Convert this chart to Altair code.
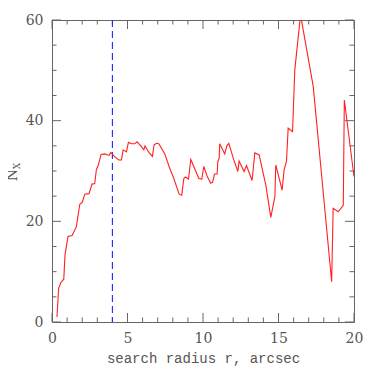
import altair as alt
import pandas as pd

# ---- data ----
radius = [0.33, 0.44, 0.58, 0.78, 0.86, 1.06, 1.33, 1.61, 1.84, 2.01, 2.17, 2.45, 2.65, 2.83,
          2.94, 3.07, 3.25, 3.49, 3.78, 3.89, 3.98, 4.16, 4.42, 4.60, 4.71, 4.93, 5.06, 5.26,
          5.48, 5.63, 5.88, 6.08, 6.16, 6.39, 6.65, 6.76, 6.92, 7.07, 7.47, 7.80, 8.02, 8.42,
          8.59, 8.73, 8.84, 9.04, 9.19, 9.46, 9.72, 9.92, 10.05, 10.27, 10.50, 10.63, 10.76,
          10.94, 10.98, 11.07, 11.11, 11.44, 11.58, 11.71, 12.04, 12.31, 12.39, 12.72, 12.88,
          13.25, 13.43, 13.72, 14.16, 14.49, 14.76, 14.82, 15.24, 15.37, 15.53, 15.64, 15.93,
          16.08, 16.46, 17.30, 18.52, 18.62, 18.95, 19.29, 19.36, 20.0]
n_x = [1.0, 6.7, 7.8, 8.5, 13.3, 17.0, 17.2, 18.9, 23.4, 23.8, 25.4, 25.5, 27.4, 27.5,
       30.3, 31.2, 33.3, 33.4, 33.1, 33.7, 33.4, 32.8, 32.2, 32.2, 34.2, 33.8, 35.7, 35.4,
       35.4, 35.8, 35.0, 34.2, 35.0, 33.8, 32.9, 35.2, 35.5, 35.4, 33.4, 30.5, 28.9, 25.4,
       25.2, 28.5, 28.8, 28.4, 32.3, 30.4, 28.5, 28.4, 30.9, 29.0, 27.6, 27.7, 29.4,
       29.4, 31.9, 32.5, 35.4, 33.4, 35.0, 35.5, 32.2, 29.9, 32.0, 29.9, 31.1,
       28.1, 33.6, 33.2, 27.2, 20.8, 24.9, 31.2, 26.2, 30.2, 32.0, 38.5, 37.8,
       50.1, 61.0, 46.8, 8.0, 22.6, 21.9, 23.2, 44.1, 28.9]
marker_r = [4.0]
x_major = [0, 5, 10, 15, 20]
x_minor = [1, 2, 3, 4, 6, 7, 8, 9, 11, 12, 13, 14, 16, 17, 18, 19]
y_major = [0, 20, 40, 60]
y_minor = [5, 10, 15, 25, 30, 35, 45, 50, 55]

W = 302
H = 302
GREY = "#666666"
TXT = "#555555"
FONT = "DejaVu Serif"
TFONT = "Liberation Mono"

xs = alt.Scale(domain=[0, 20], nice=False, zero=False)
ys = alt.Scale(domain=[0, 60], nice=False, zero=False)

df = pd.DataFrame({"r": radius, "n": n_x})

base_axes = alt.Chart(pd.DataFrame({"r": [0], "n": [0]})).mark_point(opacity=0).encode(
    x=alt.X("r:Q", scale=xs, title="search radius r, arcsec",
            axis=alt.Axis(values=x_major, ticks=False, domain=False, grid=False, labelFlush=False,
                          labelFont=FONT, labelFontSize=14, labelColor=TXT, labelPadding=9,
                          titleFont=TFONT, titleFontSize=14, titleColor=TXT,
                          titleFontWeight="normal", titlePadding=6)),
    y=alt.Y("n:Q", scale=ys, title=None,
            axis=alt.Axis(values=y_major, ticks=False, domain=False, grid=False, labelFlush=False,
                          labelFont=FONT, labelFontSize=14, labelColor=TXT, labelPadding=9)),
)

line = alt.Chart(df).mark_line(color="#ff2020", strokeWidth=1.1, clip=True).encode(
    x=alt.X("r:Q", scale=xs), y=alt.Y("n:Q", scale=ys), order="r:Q")

vline = alt.Chart(pd.DataFrame({"r": marker_r})).mark_rule(
    color="#2222ff", strokeDash=[7, 4], strokeWidth=1.1).encode(x=alt.X("r:Q", scale=xs))

def xticks(vals, length):
    d = pd.DataFrame({"r": vals})
    b = alt.Chart(d).mark_rule(color=GREY, strokeWidth=1).encode(
        x=alt.X("r:Q", scale=xs), y=alt.value(H), y2=alt.value(H - length))
    t = alt.Chart(d).mark_rule(color=GREY, strokeWidth=1).encode(
        x=alt.X("r:Q", scale=xs), y=alt.value(0), y2=alt.value(length))
    return b + t

def yticks(vals, length):
    d = pd.DataFrame({"n": vals})
    l = alt.Chart(d).mark_rule(color=GREY, strokeWidth=1).encode(
        y=alt.Y("n:Q", scale=ys), x=alt.value(0), x2=alt.value(length))
    r = alt.Chart(d).mark_rule(color=GREY, strokeWidth=1).encode(
        y=alt.Y("n:Q", scale=ys), x=alt.value(W), x2=alt.value(W - length))
    return l + r

ylab_n = alt.Chart(pd.DataFrame({"t": ["N"]})).mark_text(
    font=FONT, fontSize=14, color=TXT, angle=270, align="center", baseline="middle").encode(
    text="t:N", x=alt.value(-39), y=alt.value(155))
ylab_x = alt.Chart(pd.DataFrame({"t": ["X"]})).mark_text(
    font=FONT, fontSize=9, color=TXT, angle=270, align="center", baseline="middle").encode(
    text="t:N", x=alt.value(-35), y=alt.value(146))

chart = alt.layer(
    base_axes, xticks(x_major, 9), xticks(x_minor, 4.5), yticks(y_major, 9), yticks(y_minor, 4.5),
    vline, line, ylab_n, ylab_x
).properties(
    width=W, height=H,
    autosize=alt.AutoSizeParams(type="none"),
    padding={"left": 44, "top": 12, "right": 12, "bottom": 44},
).configure_view(stroke=GREY, strokeWidth=1)

chart.save("out.html", embed_options={"renderer": "svg", "actions": False})
